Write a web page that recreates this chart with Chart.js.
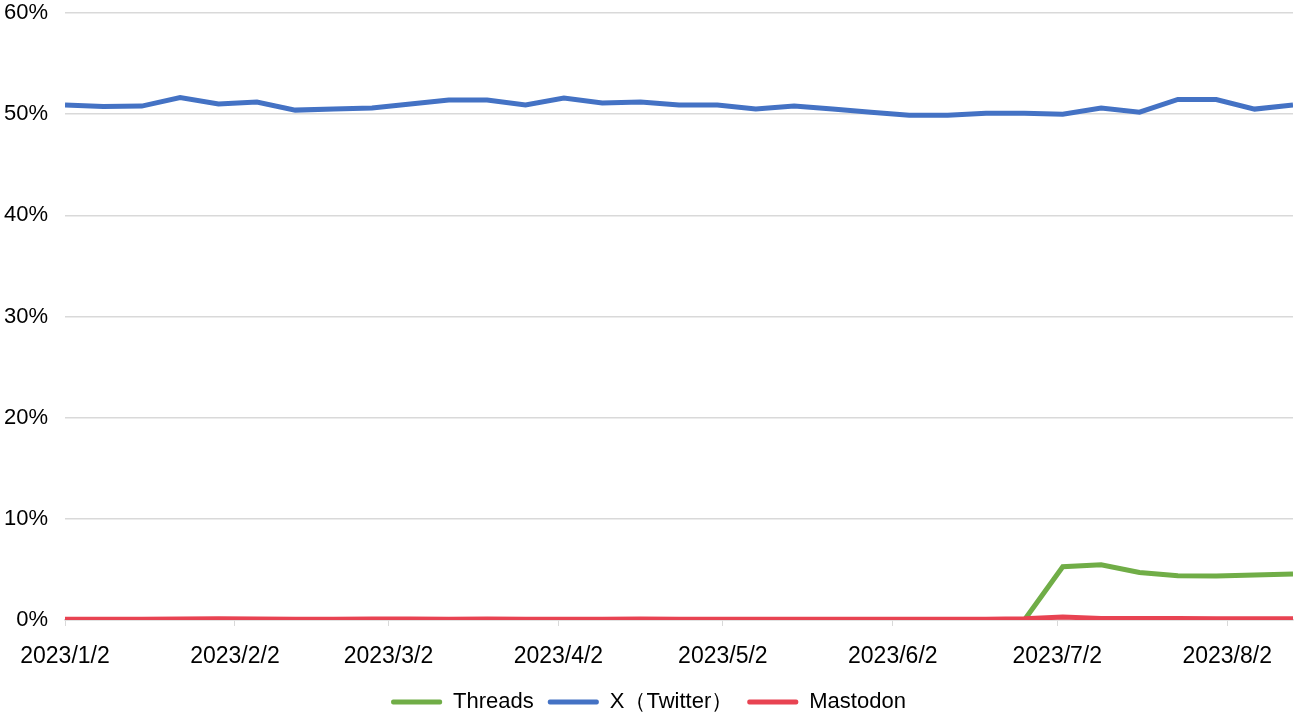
<!DOCTYPE html>
<html>
<head>
<meta charset="utf-8">
<script src="https://cdn.jsdelivr.net/npm/chart.js@4/dist/chart.umd.min.js"></script>
<style>
  html, body { margin: 0; padding: 0; background: #fff; }
  #wrap { width: 1300px; height: 716px; position: relative; }
</style>
</head>
<body>
<div id="wrap"><canvas id="shareChart"></canvas></div>
<script>
// weekly observation dates
var weekDates = [
  "2023/1/2", "2023/1/9", "2023/1/16", "2023/1/23", "2023/1/30",
  "2023/2/6", "2023/2/13", "2023/2/20", "2023/2/27",
  "2023/3/6", "2023/3/13", "2023/3/20", "2023/3/27",
  "2023/4/3", "2023/4/10", "2023/4/17", "2023/4/24",
  "2023/5/1", "2023/5/8", "2023/5/15", "2023/5/22", "2023/5/29",
  "2023/6/5", "2023/6/12", "2023/6/19", "2023/6/26",
  "2023/7/3", "2023/7/10", "2023/7/17", "2023/7/24", "2023/7/31",
  "2023/8/7", "2023/8/14"
];

// share in percent
var threadsValues = [
  0, 0, 0, 0, 0,
  0, 0, 0, 0,
  0, 0, 0, 0,
  0, 0, 0, 0,
  0, 0, 0, 0, 0,
  0, 0, 0, 0,
  5.27, 5.45, 4.7, 4.38, 4.35,
  4.45, 4.55
];
var twitterValues = [
  50.9, 50.75, 50.8, 51.65, 51.0,
  51.2, 50.4, 50.5, 50.6,
  51.0, 51.4, 51.4, 50.9,
  51.6, 51.1, 51.2, 50.9,
  50.9, 50.5, 50.8, 50.5, 50.2,
  49.9, 49.9, 50.1, 50.1,
  50.0, 50.6, 50.2, 51.45, 51.45,
  50.5, 50.9
];
var mastodonValues = [
  0.07, 0.07, 0.08, 0.1, 0.12,
  0.1, 0.08, 0.08, 0.1,
  0.09, 0.08, 0.1, 0.08,
  0.08, 0.08, 0.09, 0.07,
  0.08, 0.08, 0.07, 0.07, 0.07,
  0.07, 0.07, 0.07, 0.12,
  0.3, 0.15, 0.15, 0.15, 0.13,
  0.13, 0.13
];

// month tick labels on the date axis
var tickLabels = ["2023/1/2", "2023/2/2", "2023/3/2", "2023/4/2", "2023/5/2", "2023/6/2", "2023/7/2", "2023/8/2"];
var yTicks = [0, 10, 20, 30, 40, 50, 60];

var seriesNames = ["Threads", "X（Twitter）", "Mastodon"];
var seriesColors = ["#70AD47", "#4472C4", "#E84352"];

function parseDate(s) {
  var p = s.split("/");
  return Date.UTC(+p[0], +p[1] - 1, +p[2]);
}
var startDay = parseDate(weekDates[0]);
function dayOffset(s) {
  return Math.round((parseDate(s) - startDay) / 86400000);
}

function toPoints(values) {
  return values.map(function(v, i) {
    return { x: dayOffset(weekDates[i]), y: v };
  });
}

var tickOffsets = tickLabels.map(dayOffset);
var labelByOffset = {};
tickLabels.forEach(function(t) { labelByOffset[dayOffset(t)] = t; });

Chart.defaults.font.family = "'Liberation Sans', Arial, Helvetica, sans-serif";
Chart.defaults.font.size = 22;
Chart.defaults.color = "#000";

var allSeries = [threadsValues, twitterValues, mastodonValues];
// mastodon drawn on top, threads underneath
var drawOrder = [2, 1, 0];

var ctx = document.getElementById("shareChart");
var shareChart = new Chart(ctx, {
  type: "line",
  data: {
    datasets: allSeries.map(function(values, i) {
      return {
        label: seriesNames[i],
        data: toPoints(values),
        borderColor: seriesColors[i],
        backgroundColor: seriesColors[i],
        borderWidth: 5,
        pointRadius: 0,
        tension: 0,
        order: drawOrder[i]
      };
    })
  },
  options: {
    responsive: true,
    maintainAspectRatio: false,
    animation: false,
    layout: { padding: { top: 0, right: 7, left: 4, bottom: -7 } },
    plugins: {
      tooltip: { enabled: false },
      legend: {
        position: "bottom",
        labels: {
          boxWidth: 51,
          boxHeight: 5,
          padding: 14,
          font: { size: 22 },
          sort: function(a, b) { return a.datasetIndex - b.datasetIndex; },
          generateLabels: function(chart) {
            return chart.data.datasets.map(function(ds, i) {
              return {
                text: ds.label,
                fillStyle: ds.borderColor,
                strokeStyle: ds.borderColor,
                lineWidth: 0,
                borderRadius: 2,
                datasetIndex: i,
                hidden: false
              };
            });
          }
        }
      }
    },
    scales: {
      x: {
        type: "linear",
        min: 0,
        max: dayOffset(weekDates[weekDates.length - 1]),
        afterBuildTicks: function(axis) {
          axis.ticks = tickOffsets.map(function(v) { return { value: v }; });
        },
        afterFit: function(axis) {
          axis.height = 57;
        },
        ticks: {
          autoSkip: false,
          maxRotation: 0,
          padding: 17,
          font: { size: 23 },
          callback: function(value) { return labelByOffset[value] || ""; }
        },
        grid: {
          drawOnChartArea: false,
          drawTicks: true,
          tickLength: 6,
          color: "#d9d9d9"
        },
        border: { display: true, color: "#d9d9d9", width: 1.5 }
      },
      y: {
        min: yTicks[0],
        max: yTicks[yTicks.length - 1],
        afterBuildTicks: function(axis) {
          axis.ticks = yTicks.map(function(v) { return { value: v }; });
        },
        afterFit: function(axis) {
          axis.width = 61;
          axis.paddingTop = 13;
          axis.paddingBottom = 0;
        },
        ticks: {
          padding: 17,
          callback: function(value) { return value + "%"; }
        },
        grid: {
          drawTicks: false,
          color: "#d9d9d9",
          lineWidth: 1.5
        },
        border: { display: false }
      }
    }
  }
});
</script>
</body>
</html>
